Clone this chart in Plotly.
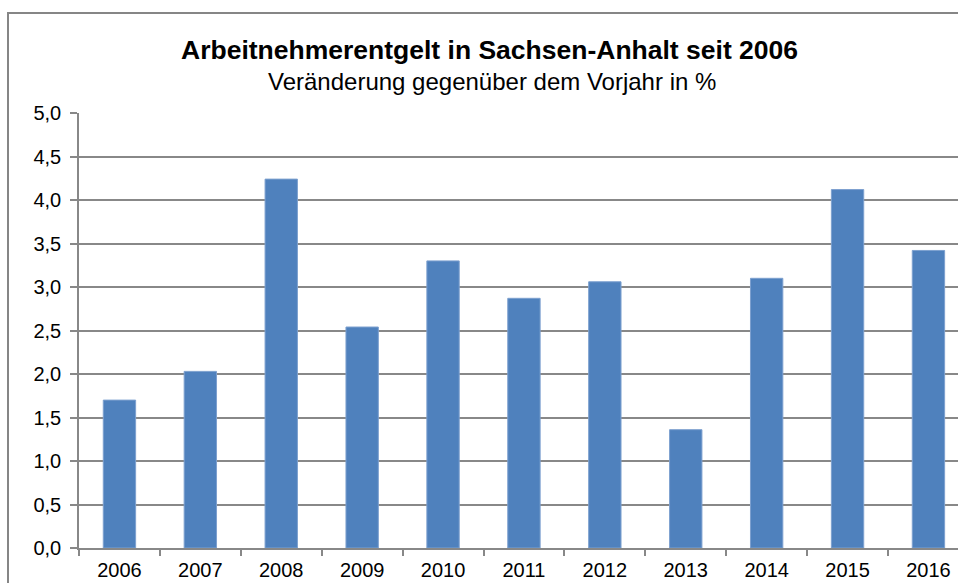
import plotly.graph_objects as go

years = ["2006", "2007", "2008", "2009", "2010", "2011", "2012", "2013", "2014", "2015", "2016"]
values = [1.70, 2.03, 4.24, 2.54, 3.30, 2.87, 3.06, 1.36, 3.10, 4.12, 3.42]
title = "Arbeitnehmerentgelt in Sachsen-Anhalt seit 2006"
subtitle = "Veränderung gegenüber dem Vorjahr in %"

W, H = 958, 583
L, R, T, B = 79, 0, 113, 35
pw, ph = W - L - R, H - T - B

def px(x):
    return (x - L) / pw

def py(y):
    return (H - B - y) / ph

fig = go.Figure(go.Bar(
    x=years, y=values,
    marker=dict(color="#4F81BD", line=dict(color="#7DA0CF", width=1)),
    width=0.4,
))

fig.update_layout(
    width=W, height=H,
    margin=dict(l=L, r=R, t=T, b=B, pad=0),
    paper_bgcolor="white", plot_bgcolor="white",
    separators=",.",
    font=dict(family="Liberation Sans, Arial, sans-serif", size=20, color="black"),
    showlegend=False,
    xaxis=dict(
        type="category", range=[-0.5, -0.5 + pw / 80.9], automargin=False,
        tickson="boundaries", ticks="outside", ticklen=6, tickcolor="#888", tickwidth=1.5,
        showline=True, linecolor="#888", linewidth=1.5, showgrid=False,
        tickfont=dict(size=20), ticklabelstandoff=3,
    ),
    yaxis=dict(
        range=[0, 5], dtick=0.5, tickformat=".1f", automargin=False,
        ticks="outside", ticklen=7, tickcolor="#888", tickwidth=1.5,
        showline=True, linecolor="#888", linewidth=1.5,
        showgrid=True, gridcolor="#888", gridwidth=1.5,
        zeroline=False, tickfont=dict(size=20), ticklabelstandoff=5,
    ),
    shapes=[dict(type="rect", xref="paper", yref="paper",
                 x0=px(8), x1=px(1200), y0=py(800), y1=py(13),
                 line=dict(color="#868686", width=2), layer="below")],
    annotations=[
        dict(text="<b>" + title + "</b>", xref="paper", yref="paper",
             x=px(489), y=py(50), xanchor="center", yanchor="middle",
             showarrow=False, font=dict(size=26.5)),
        dict(text=subtitle, xref="paper", yref="paper",
             x=px(492), y=py(81), xanchor="center", yanchor="middle",
             showarrow=False, font=dict(size=24)),
    ],
)

fig.write_html("out.html", config={"displayModeBar": False},
               post_script="document.body.style.margin='0';document.body.style.overflow='hidden';")
